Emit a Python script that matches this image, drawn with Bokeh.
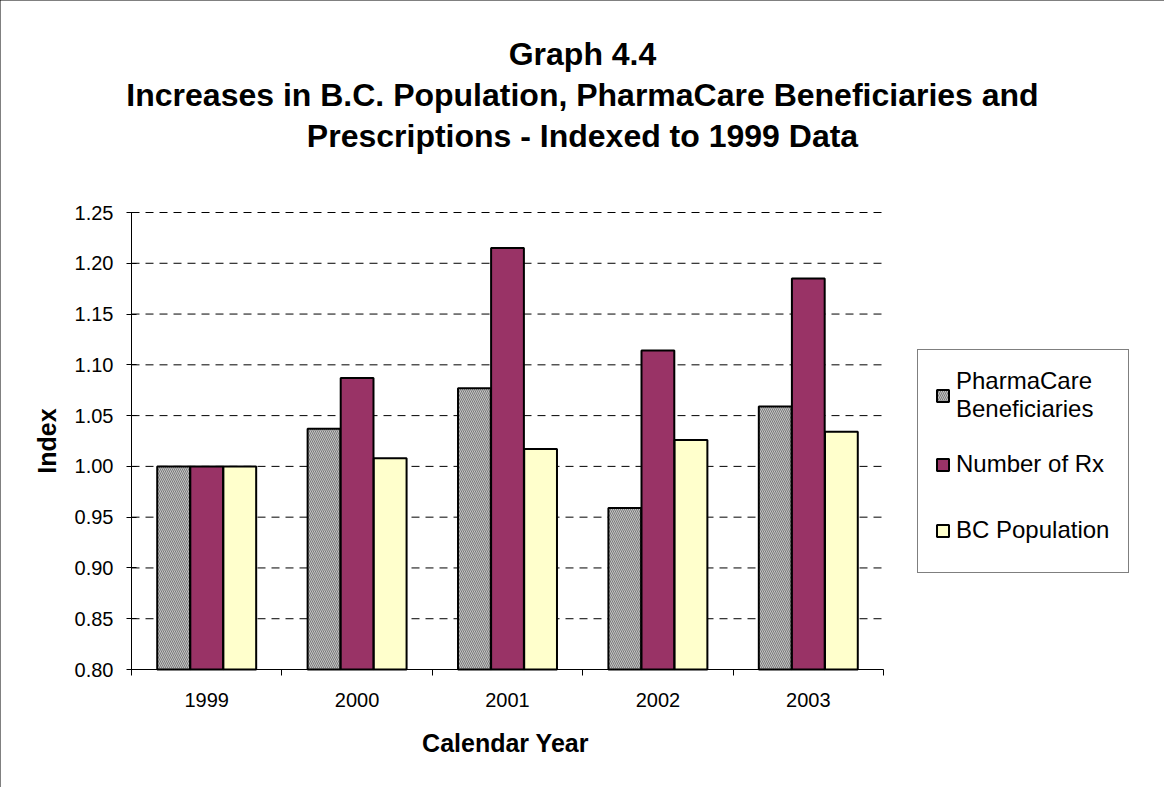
import math
from bokeh.plotting import figure
from bokeh.models import (ColumnDataSource, Range1d, FixedTicker, Legend, LegendItem, Label,
                          CustomJSTickFormatter)
from bokeh.embed import file_html
from bokeh.resources import INLINE

# ---- data ----
years = ["1999", "2000", "2001", "2002", "2003"]
beneficiaries = [1.000, 1.037, 1.077, 0.959, 1.059]
rx = [1.000, 1.087, 1.215, 1.114, 1.185]
population = [1.000, 1.008, 1.017, 1.026, 1.034]
y_ticks = [0.80, 0.85, 0.90, 0.95, 1.00, 1.05, 1.10, 1.15, 1.20, 1.25]
series_names = ["PharmaCare\nBeneficiaries", "Number of Rx", "BC Population"]
title_lines = ["Graph 4.4",
               "Increases in B.C. Population, PharmaCare Beneficiaries and",
               "Prescriptions - Indexed to 1999 Data"]
x_label = "Calendar Year"
y_label = "Index"

# ---- layout (pixels) ----
FONT = "Liberation Sans"
W, H = 1164, 787
AREA_L, AREA_R, AREA_T, AREA_B = 131, 883, 212, 669   # data area inside the canvas
n = len(years)
y0, y1 = y_ticks[0], y_ticks[-1]
px_x = n / (AREA_R - AREA_L)            # data units per px
px_y = (y1 - y0) / (AREA_B - AREA_T)

p = figure(width=W, height=H, output_backend="svg", toolbar_location=None,
           x_range=Range1d(-AREA_L * px_x, (W - AREA_L) * px_x),
           y_range=Range1d(y0 - (H - AREA_B) * px_y, y1 + AREA_T * px_y),
           min_border_left=0, min_border_right=0, min_border_top=0, min_border_bottom=0)
p.outline_line_color = None
p.background_fill_color = "white"
p.border_fill_color = "white"
p.styles = {"outline": "1px solid #000", "outline-offset": "-1px"}
p.xgrid.visible = False
p.ygrid.visible = False

# dashed grid lines across the category area
grid_src = ColumnDataSource(dict(x0=[0] * (len(y_ticks) - 1), x1=[n] * (len(y_ticks) - 1), y=y_ticks[1:]))
p.segment(x0="x0", y0="y", x1="x1", y1="y", source=grid_src,
          line_color="#000000", line_width=1, line_dash="8 6")

centers = [i + 0.5 for i in range(n)]
bw = 0.218
offs = [-0.22, 0.0, 0.22]
src = ColumnDataSource(dict(
    xb=[c + offs[0] for c in centers], xr=[c + offs[1] for c in centers], xp=[c + offs[2] for c in centers],
    ben=beneficiaries, rx=rx, pop=population))

r1 = p.vbar(x="xb", top="ben", bottom=y0, width=bw, source=src,
            fill_color="#c4c4c4", hatch_pattern="\\", hatch_color="#7a7a7a",
            hatch_scale=4, hatch_weight=1, line_color="#000000", line_width=2)
r2 = p.vbar(x="xr", top="rx", bottom=y0, width=bw, source=src,
            fill_color="#993366", line_color="#000000", line_width=2)
r3 = p.vbar(x="xp", top="pop", bottom=y0, width=bw, source=src,
            fill_color="#FFFFCC", line_color="#000000", line_width=2)

# y axis, pinned to the left edge of the category area
ya = p.yaxis[0]
ya.fixed_location = 0
ya.bounds = (y0, y1)
ya.ticker = FixedTicker(ticks=y_ticks)
ya.formatter = CustomJSTickFormatter(code="return tick.toFixed(2);")
ya.major_tick_in = 5
ya.major_tick_out = 5
ya.minor_tick_line_color = None
ya.axis_line_color = "#000000"
ya.major_tick_line_color = "#000000"
ya.major_label_text_font = FONT
ya.major_label_text_font_size = "20px"
ya.major_label_text_color = "#000000"
ya.major_label_standoff = 13

# x axis, pinned to the bottom of the category area
xa = p.xaxis[0]
xa.fixed_location = y0
xa.bounds = (0, n)
xa.ticker = FixedTicker(ticks=centers, minor_ticks=list(range(n + 1)))
xa.major_label_overrides = {c: y for c, y in zip(centers, years)}
xa.major_tick_in = 0
xa.major_tick_out = 0
xa.minor_tick_in = 0
xa.minor_tick_out = 6
xa.minor_tick_line_color = "#000000"
xa.axis_line_color = "#000000"
xa.major_label_text_font = FONT
xa.major_label_text_font_size = "20px"
xa.major_label_text_color = "#000000"
xa.major_label_standoff = 17

# axis titles (screen units from the canvas' bottom-left corner)
p.add_layout(Label(x=(AREA_L + AREA_R) / 2 - 2, y=H - 742, x_units="screen", y_units="screen",
                   text=x_label, text_align="center", text_baseline="alphabetic",
                   text_font=FONT, text_font_style="bold", text_font_size="25px",
                   text_color="#000000"))
p.add_layout(Label(x=46, y=H - (AREA_T + AREA_B) / 2, x_units="screen", y_units="screen",
                   text=y_label, angle=math.pi / 2, text_align="center", text_baseline="alphabetic",
                   text_font=FONT, text_font_style="bold", text_font_size="25px",
                   text_color="#000000"))

# legend
legend = Legend(items=[LegendItem(label=series_names[0], renderers=[r1]),
                       LegendItem(label=series_names[1], renderers=[r2]),
                       LegendItem(label=series_names[2], renderers=[r3])],
                location=(917, H - 573), orientation="vertical",
                border_line_color="#000000", border_line_width=1,
                background_fill_color="white", background_fill_alpha=1,
                label_text_font=FONT, label_text_font_size="24px", label_text_color="#000000",
                glyph_width=15, glyph_height=15, label_standoff=6,
                label_width=155, label_height=50, padding=17, spacing=16, margin=0)
p.add_layout(legend, "center")

# chart title lines
for txt, base in zip(title_lines, [53, 94, 135]):
    p.add_layout(Label(x=W / 2, y=H - base, x_units="screen", y_units="screen",
                       text=txt, text_align="center", text_baseline="alphabetic",
                       text_font=FONT, text_font_style="bold", text_font_size="32px",
                       text_color="#000000"))

open("out.html", "w").write(file_html(p, INLINE))
